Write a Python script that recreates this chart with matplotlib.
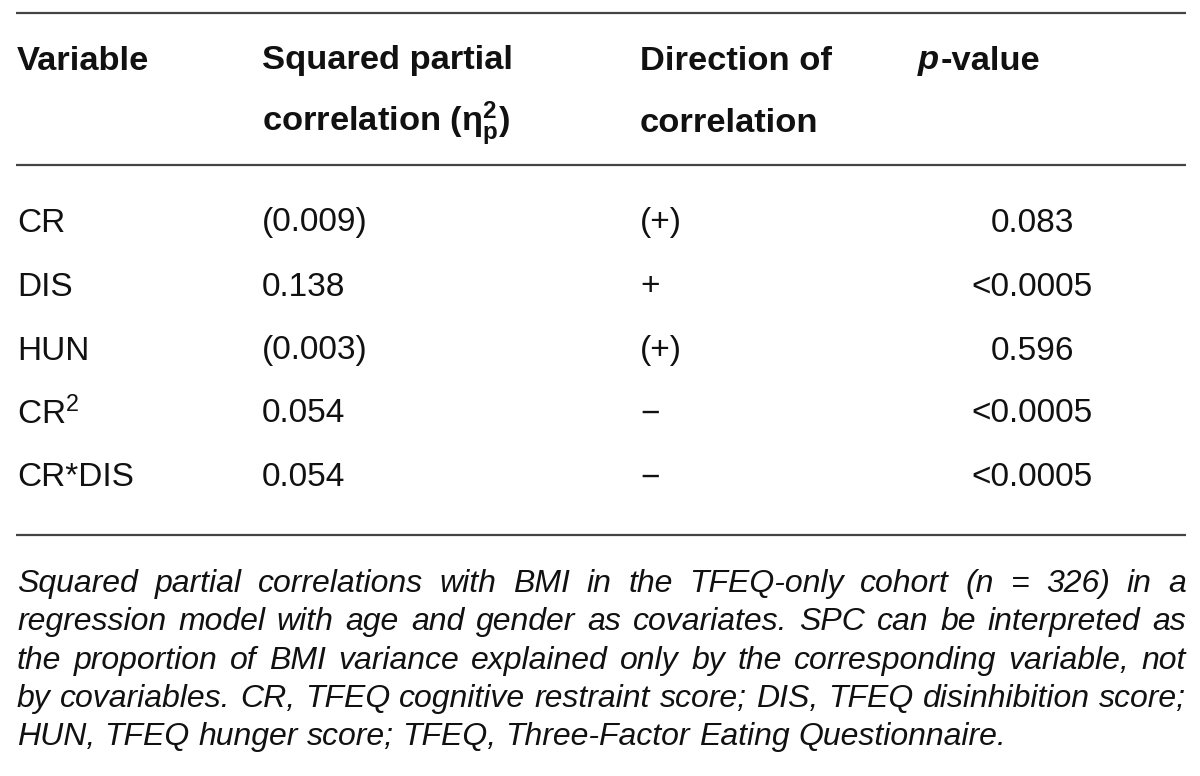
import matplotlib
matplotlib.use("Agg")
import matplotlib.pyplot as plt

plt.rcParams["font.family"] = ["Liberation Sans", "DejaVu Sans"]
plt.rcParams["mathtext.fontset"] = "custom"
plt.rcParams["mathtext.rm"] = "Liberation Sans"
plt.rcParams["mathtext.it"] = "Liberation Sans:italic"
plt.rcParams["mathtext.bf"] = "Liberation Sans:bold"

# table content
variables = ["CR", "DIS", "HUN", "CR$^2$", "CR*DIS"]
spc_values = ["(0.009)", "0.138", "(0.003)", "0.054", "0.054"]
directions = ["(+)", "+", "(+)", "\u2212", "\u2212"]
p_values = ["0.083", "<0.0005", "0.596", "<0.0005", "<0.0005"]

footnote_lines = [
    "Squared partial correlations with BMI in the TFEQ-only cohort (n = 326) in a",
    "regression model with age and gender as covariates. SPC can be interpreted as",
    "the proportion of BMI variance explained only by the corresponding variable, not",
    "by covariables. CR, TFEQ cognitive restraint score; DIS, TFEQ disinhibition score;",
    "HUN, TFEQ hunger score; TFEQ, Three-Factor Eating Questionnaire.",
]

W, H = 1200, 776
fig = plt.figure(figsize=(W / 100, H / 100), dpi=100)
ax = fig.add_axes([0, 0, 1, 1])
ax.set_xlim(0, W)
ax.set_ylim(H, 0)
ax.axis("off")

x_left, x_right = 16, 1186
col_x = [17, 262, 640]
p_center = 1032
hdr_size = 24.8
body_size = 24
foot_size = 23
txt_color = "#111111"
rule_color = "#444444"

# rules
for y in (13, 165, 535):
    ax.plot([x_left, x_right], [y, y], color=rule_color, lw=1.6, solid_capstyle="butt")

# header
hdr = dict(fontsize=hdr_size, fontweight="bold", color=txt_color, va="center", ha="left")
ax.text(col_x[0], 61, "Variable", **hdr)
ax.text(col_x[1], 61, "Squared partial", **hdr)
ax.text(col_x[1], 124, r"correlation ($\mathbf{\eta}_{\mathbf{p}}^{\mathbf{2}}$)", **hdr)
ax.text(col_x[2], 61, "Direction of", **hdr)
ax.text(col_x[2], 124, "correlation", **hdr)
p_txt = ax.text(918, 61, "p", fontstyle="italic", **hdr)

# body rows
row_y = [223, 287, 351, 414, 478]
body = dict(fontsize=body_size, color=txt_color, va="center")
for y, v, s, d, p in zip(row_y, variables, spc_values, directions, p_values):
    ax.text(col_x[0], y, v, ha="left", **body)
    ax.text(col_x[1], y, s, ha="left", **body)
    ax.text(col_x[2], y, d, ha="left", **body)
    ax.text(p_center, y, p, ha="center", **body)

# footnote words, justified afterwards
foot_y0, foot_dy = 584, 38.3
foot = dict(fontsize=foot_size, fontstyle="italic", color=txt_color, va="center", ha="left")
word_texts = []
for i, line in enumerate(footnote_lines):
    objs = [ax.text(0, foot_y0 + i * foot_dy, w, **foot) for w in line.split(" ")]
    word_texts.append(objs)

fig.canvas.draw()
renderer = fig.canvas.get_renderer()


def width_px(t):
    return t.get_window_extent(renderer=renderer).width


bb = p_txt.get_window_extent(renderer=renderer)
ax.text(918 + bb.width + 1, 61, "-value", **hdr)

# width of a normal space
probe_2 = ax.text(300, 300, "a a", **foot)
probe_1 = ax.text(300, 300, "aa", **foot)
space_w = width_px(probe_2) - width_px(probe_1)
probe_2.remove()
probe_1.remove()

for i, objs in enumerate(word_texts):
    widths = [width_px(t) for t in objs]
    if i < len(word_texts) - 1:
        gap = (x_right - col_x[0] - sum(widths)) / (len(objs) - 1)
    else:
        gap = space_w
    x = col_x[0]
    for t, w in zip(objs, widths):
        t.set_x(x)
        x += w + gap

fig.savefig("out.png", dpi=100, facecolor="white")
